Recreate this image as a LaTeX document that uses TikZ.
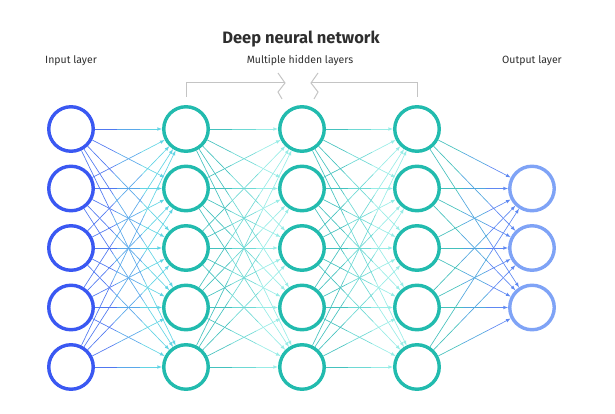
\documentclass[tikz,border=0pt]{standalone}
\usepackage{fontspec}
\setmainfont{Fira Sans}

\definecolor{inblue}{HTML}{3A58F2}
\definecolor{hidteal}{HTML}{22BBAE}
\definecolor{outblue}{HTML}{7FA3F6}
\definecolor{txtgray}{HTML}{2E2E2E}
\definecolor{brgray}{HTML}{C4C4C4}
% edge colours, start / middle / end of each gap
\definecolor{gA1}{HTML}{5078F0}
\definecolor{gA2}{HTML}{5AA8EA}
\definecolor{gA3}{HTML}{62D4E4}
\definecolor{gB1}{HTML}{44C2BE}
\definecolor{gB2}{HTML}{6ED9D4}
\definecolor{gB3}{HTML}{98ECE6}
\definecolor{gC1}{HTML}{44C0BC}
\definecolor{gC2}{HTML}{50A6DE}
\definecolor{gC3}{HTML}{5E88F2}

\tikzset{
  neuron/.style={circle, draw, line width=3.4pt, minimum size=44.5pt, inner sep=0pt},
  conn/.style={line width=0.65pt},
  lbl/.style={text=txtgray, font=\fontsize{10.5}{12}\selectfont},
}

\begin{document}
\begin{tikzpicture}[x=1pt,y=-1pt]
\useasboundingbox (0,0) rectangle (615,414);

\node[text=txtgray, font=\fontsize{16.5}{20}\selectfont\bfseries] (title) at (301,39) {Deep neural network};
\node[lbl] (hidlbl) at (300,61) {Multiple hidden layers};
\node[lbl] (inlbl) at (71,61) {Input layer};
\node[lbl] (outlbl) at (532,61) {Output layer};

% bracket over the hidden layers
\draw[brgray, line width=1pt] (186,97) -- (186,83) -- (284,83);
\draw[brgray, line width=1pt] (278,73) -- (285,83) -- (278,92) -- (282,99);
\draw[brgray, line width=1pt] (417,97) -- (417,83) -- (312,83);
\draw[brgray, line width=1pt] (318,73) -- (311,83) -- (318,92) -- (314,99);

% neurons
\foreach \i/\y in {1/129,2/188.5,3/248,4/307.5,5/367}{
  \node[neuron, draw=inblue] (in\i) at (71,\y) {};
  \node[neuron, draw=hidteal] (ha\i) at (186,\y) {};
  \node[neuron, draw=hidteal] (hb\i) at (302,\y) {};
  \node[neuron, draw=hidteal] (hc\i) at (417,\y) {};
}
\foreach \i/\y in {1/188.5,2/248,3/307.5}
  \node[neuron, draw=outblue] (out\i) at (532,\y) {};

% connections, in three pieces for the colour fade
\foreach \a/\b/\nb/\ca/\cb/\cc in {in/ha/5/gA1/gA2/gA3, ha/hb/5/gB1/gB2/gB3, hb/hc/5/gB1/gB2/gB3, hc/out/3/gC1/gC2/gC3}
  \foreach \i in {1,...,5}
    \foreach \j in {1,...,\nb}{
      \path (\a\i) -- (\b\j) coordinate[pos=.33] (m1) coordinate[pos=.67] (m2);
      \draw[conn, \ca] (\a\i) -- (m1);
      \draw[conn, \cb] (m1) -- (m2);
      \draw[conn, \cc, -latex] (m2) -- (\b\j);
    }
\end{tikzpicture}
\end{document}
